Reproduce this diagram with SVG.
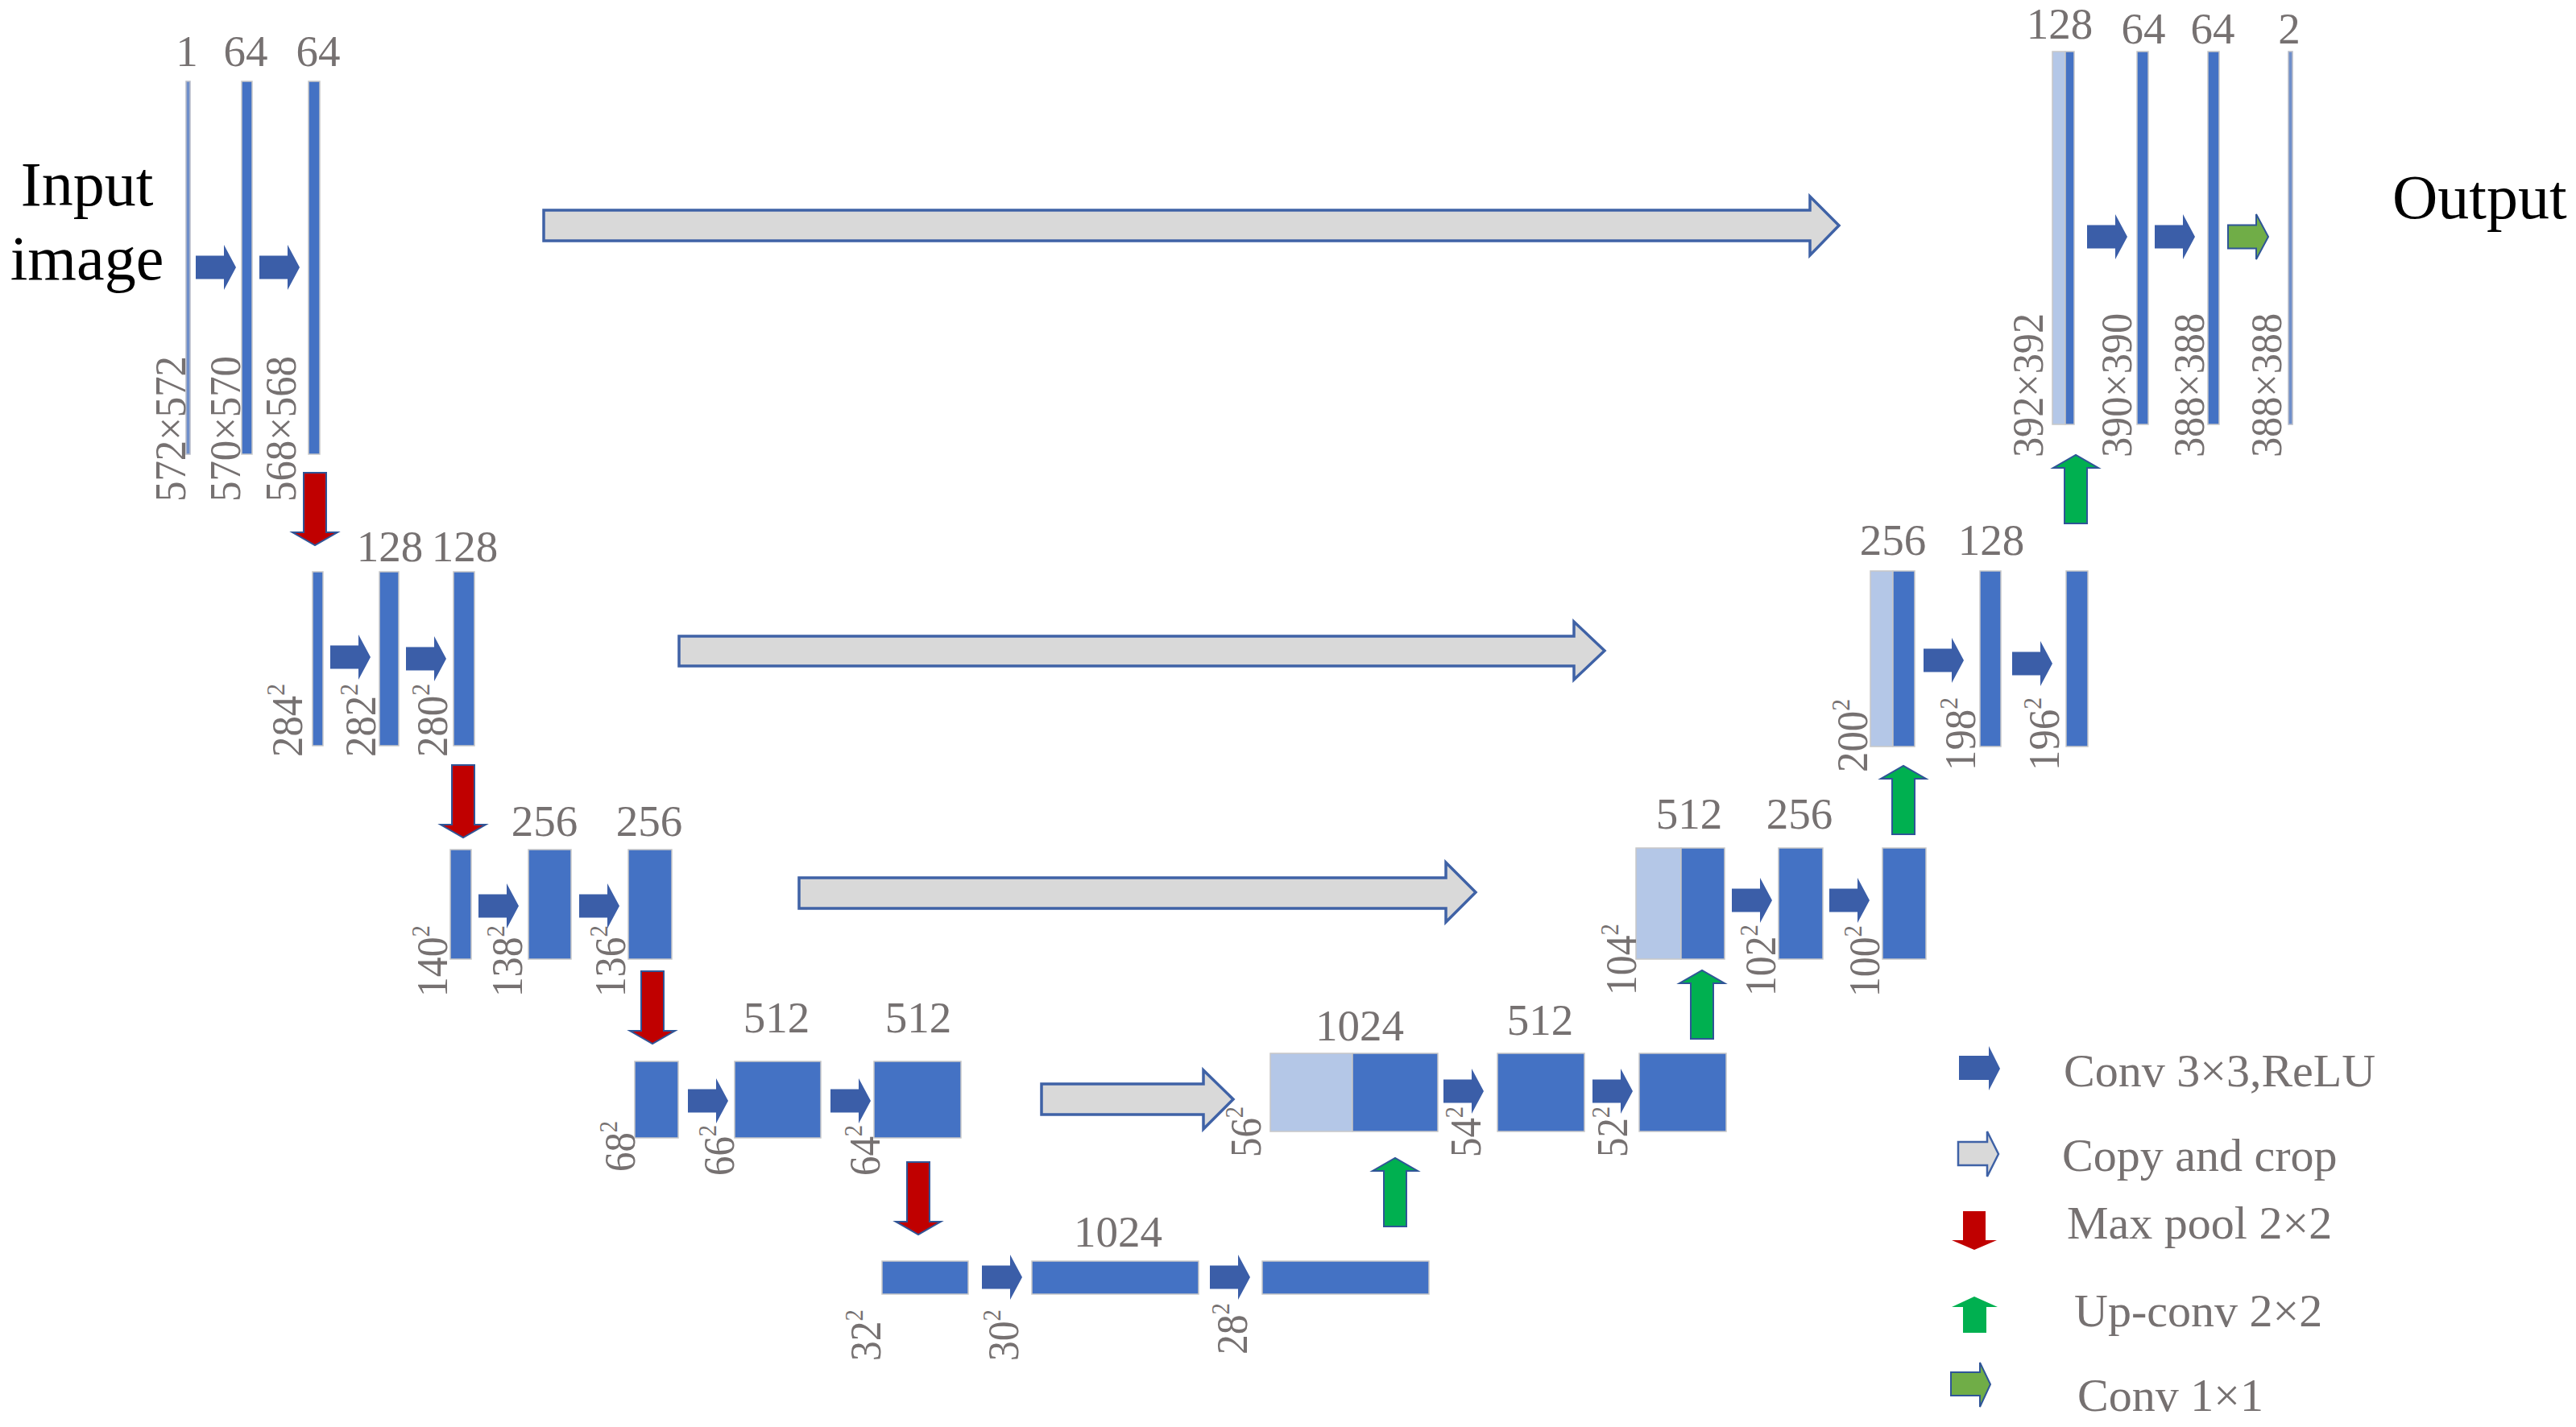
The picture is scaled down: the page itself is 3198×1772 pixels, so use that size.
<svg xmlns="http://www.w3.org/2000/svg" xmlns:xlink="http://www.w3.org/1999/xlink" width="3198" height="1772" viewBox="0 0 3198 1772">
<style>
.bar{fill:#4472c4;stroke:#c8c8c8;stroke-width:1.5}
.lt{fill:#b4c7e7;stroke:#c8c8c8;stroke-width:1.5}
.thin{fill:#6f8fca;stroke:#b8bcc8;stroke-width:1.5}
.ch{font-family:"Liberation Serif","Times New Roman",serif;font-size:55px;fill:#767171;text-anchor:middle}
.sz{font-family:"Liberation Serif","Times New Roman",serif;font-size:55px;fill:#767171}
.sup{font-size:32px}
.big{font-family:"Liberation Serif","Times New Roman",serif;font-size:78px;fill:#000}
.lg{font-family:"Liberation Serif","Times New Roman",serif;font-size:58px;fill:#767171}
.conv{fill:#3b5ea8}
.pool{fill:#c00000;stroke:#2f5597;stroke-width:2}
.up{fill:#00b050;stroke:#2f5597;stroke-width:2}
.copy{fill:#d9d9d9;stroke:#3f62a6;stroke-width:3.5}
.c11{fill:#70ad47;stroke:#2f5597;stroke-width:2}
</style>
<defs>
<path id="convA" d="M0,-14.5 H35 V-28 L50,0 L35,28 V14.5 H0 Z"/>
<path id="poolA" d="M-14,0 H14 V74 H28 L0,90 L-28,74 H-14 Z"/>
<path id="upA" d="M-14,0 H14 V-69 H28 L0,-85 L-28,-69 H-14 Z"/>
</defs>
<rect width="3198" height="1772" fill="#fff"/>

<text class="big" x="108" y="255" text-anchor="middle">Input</text>
<text class="big" x="108" y="347" text-anchor="middle">image</text>
<text class="big" x="2970" y="271">Output</text>

<!-- Encoder level 1 -->
<g id="enc1a"><rect class="thin" x="231" y="101" width="5" height="463"/><text class="ch" x="232" y="82">1</text><text class="sz" transform="translate(230,623) rotate(-90)" textLength="181" lengthAdjust="spacingAndGlyphs">572×572</text></g>
<g id="enc1b"><rect class="bar" x="300" y="101" width="13" height="463"/><text class="ch" x="305" y="82">64</text><text class="sz" transform="translate(298,623) rotate(-90)" textLength="181" lengthAdjust="spacingAndGlyphs">570×570</text></g>
<g id="enc1c"><rect class="bar" x="383" y="101" width="14" height="463"/><text class="ch" x="395" y="82">64</text><text class="sz" transform="translate(367,623) rotate(-90)" textLength="181" lengthAdjust="spacingAndGlyphs">568×568</text></g>

<!-- Encoder level 2 -->
<g id="enc2a"><rect class="bar" x="388" y="710" width="13" height="216"/><text class="sz" transform="translate(375,940) rotate(-90)" textLength="91" lengthAdjust="spacingAndGlyphs">284<tspan class="sup" dy="-22">2</tspan></text></g>
<g id="enc2b"><rect class="bar" x="471" y="710" width="24" height="216"/><text class="ch" x="484" y="697">128</text><text class="sz" transform="translate(466,940) rotate(-90)" textLength="91" lengthAdjust="spacingAndGlyphs">282<tspan class="sup" dy="-22">2</tspan></text></g>
<g id="enc2c"><rect class="bar" x="563" y="710" width="26" height="216"/><text class="ch" x="577" y="697">128</text><text class="sz" transform="translate(555,940) rotate(-90)" textLength="91" lengthAdjust="spacingAndGlyphs">280<tspan class="sup" dy="-22">2</tspan></text></g>

<!-- Encoder level 3 -->
<g id="enc3a"><rect class="bar" x="559" y="1055" width="26" height="136"/><text class="sz" transform="translate(555,1238) rotate(-90)" textLength="89" lengthAdjust="spacingAndGlyphs">140<tspan class="sup" dy="-22">2</tspan></text></g>
<g id="enc3b"><rect class="bar" x="656" y="1055" width="53" height="136"/><text class="ch" x="676" y="1038">256</text><text class="sz" transform="translate(648,1238) rotate(-90)" textLength="89" lengthAdjust="spacingAndGlyphs">138<tspan class="sup" dy="-22">2</tspan></text></g>
<g id="enc3c"><rect class="bar" x="780" y="1055" width="54" height="136"/><text class="ch" x="806" y="1038">256</text><text class="sz" transform="translate(776,1238) rotate(-90)" textLength="89" lengthAdjust="spacingAndGlyphs">136<tspan class="sup" dy="-22">2</tspan></text></g>

<!-- Encoder level 4 -->
<g id="enc4a"><rect class="bar" x="788" y="1318" width="54" height="95"/><text class="sz" transform="translate(788,1455) rotate(-90)" textLength="63" lengthAdjust="spacingAndGlyphs">68<tspan class="sup" dy="-22">2</tspan></text></g>
<g id="enc4b"><rect class="bar" x="912" y="1318" width="107" height="95"/><text class="ch" x="964" y="1282">512</text><text class="sz" transform="translate(911,1460) rotate(-90)" textLength="63" lengthAdjust="spacingAndGlyphs">66<tspan class="sup" dy="-22">2</tspan></text></g>
<g id="enc4c"><rect class="bar" x="1085" y="1318" width="108" height="95"/><text class="ch" x="1140" y="1282">512</text><text class="sz" transform="translate(1092,1460) rotate(-90)" textLength="63" lengthAdjust="spacingAndGlyphs">64<tspan class="sup" dy="-22">2</tspan></text></g>

<!-- Bottleneck -->
<g id="bot1"><rect class="bar" x="1095" y="1566" width="107" height="41"/><text class="sz" transform="translate(1093,1690) rotate(-90)" textLength="64" lengthAdjust="spacingAndGlyphs">32<tspan class="sup" dy="-22">2</tspan></text></g>
<g id="bot2"><rect class="bar" x="1281" y="1566" width="207" height="41"/><text class="ch" x="1388" y="1548">1024</text><text class="sz" transform="translate(1264,1690) rotate(-90)" textLength="64" lengthAdjust="spacingAndGlyphs">30<tspan class="sup" dy="-22">2</tspan></text></g>
<g id="bot3"><rect class="bar" x="1567" y="1566" width="207" height="41"/><text class="sz" transform="translate(1548,1682) rotate(-90)" textLength="64" lengthAdjust="spacingAndGlyphs">28<tspan class="sup" dy="-22">2</tspan></text></g>

<!-- Decoder level 4 -->
<g id="dec4a"><rect class="lt" x="1577" y="1308" width="102" height="97"/><rect class="bar" x="1679" y="1308" width="106" height="97"/><text class="ch" x="1688" y="1292">1024</text><text class="sz" transform="translate(1565,1437) rotate(-90)" textLength="63" lengthAdjust="spacingAndGlyphs">56<tspan class="sup" dy="-22">2</tspan></text></g>
<g id="dec4b"><rect class="bar" x="1859" y="1308" width="108" height="97"/><text class="ch" x="1912" y="1285">512</text><text class="sz" transform="translate(1838,1437) rotate(-90)" textLength="63" lengthAdjust="spacingAndGlyphs">54<tspan class="sup" dy="-22">2</tspan></text></g>
<g id="dec4c"><rect class="bar" x="2035" y="1308" width="108" height="97"/><text class="sz" transform="translate(2020,1437) rotate(-90)" textLength="63" lengthAdjust="spacingAndGlyphs">52<tspan class="sup" dy="-22">2</tspan></text></g>

<!-- Decoder level 3 -->
<g id="dec3a"><rect class="lt" x="2031" y="1053" width="56" height="138"/><rect class="bar" x="2087" y="1053" width="54" height="138"/><text class="ch" x="2097" y="1029">512</text><text class="sz" transform="translate(2031,1236) rotate(-90)" textLength="89" lengthAdjust="spacingAndGlyphs">104<tspan class="sup" dy="-22">2</tspan></text></g>
<g id="dec3b"><rect class="bar" x="2208" y="1053" width="55" height="138"/><text class="ch" x="2234" y="1029">256</text><text class="sz" transform="translate(2204,1237) rotate(-90)" textLength="89" lengthAdjust="spacingAndGlyphs">102<tspan class="sup" dy="-22">2</tspan></text></g>
<g id="dec3c"><rect class="bar" x="2337" y="1053" width="54" height="138"/><text class="sz" transform="translate(2333,1238) rotate(-90)" textLength="89" lengthAdjust="spacingAndGlyphs">100<tspan class="sup" dy="-22">2</tspan></text></g>

<!-- Decoder level 2 -->
<g id="dec2a"><rect class="lt" x="2322" y="709" width="28" height="218"/><rect class="bar" x="2350" y="709" width="27" height="218"/><text class="ch" x="2350" y="689">256</text><text class="sz" transform="translate(2318,959) rotate(-90)" textLength="91" lengthAdjust="spacingAndGlyphs">200<tspan class="sup" dy="-22">2</tspan></text></g>
<g id="dec2b"><rect class="bar" x="2458" y="709" width="26" height="218"/><text class="ch" x="2472" y="689">128</text><text class="sz" transform="translate(2452,957) rotate(-90)" textLength="91" lengthAdjust="spacingAndGlyphs">198<tspan class="sup" dy="-22">2</tspan></text></g>
<g id="dec2c"><rect class="bar" x="2565" y="709" width="27" height="218"/><text class="sz" transform="translate(2556,957) rotate(-90)" textLength="91" lengthAdjust="spacingAndGlyphs">196<tspan class="sup" dy="-22">2</tspan></text></g>

<!-- Decoder level 1 -->
<g id="dec1a"><rect class="lt" x="2548" y="64" width="16" height="463"/><rect class="bar" x="2564" y="64" width="11" height="463"/><text class="ch" x="2557" y="48">128</text><text class="sz" transform="translate(2536,568) rotate(-90)" textLength="179" lengthAdjust="spacingAndGlyphs">392×392</text></g>
<g id="dec1b"><rect class="bar" x="2653" y="64" width="14" height="463"/><text class="ch" x="2661" y="54">64</text><text class="sz" transform="translate(2646,568) rotate(-90)" textLength="179" lengthAdjust="spacingAndGlyphs">390×390</text></g>
<g id="dec1c"><rect class="bar" x="2741" y="64" width="14" height="463"/><text class="ch" x="2747" y="54">64</text><text class="sz" transform="translate(2736,568) rotate(-90)" textLength="179" lengthAdjust="spacingAndGlyphs">388×388</text></g>
<g id="out"><rect class="thin" x="2841" y="64" width="5" height="463"/><text class="ch" x="2842" y="54">2</text><text class="sz" transform="translate(2832,568) rotate(-90)" textLength="179" lengthAdjust="spacingAndGlyphs">388×388</text></g>

<!-- Connectors -->
<g id="connectors">
<use href="#convA" class="conv" x="243" y="332"/>
<use href="#convA" class="conv" x="322" y="332"/>
<use href="#convA" class="conv" x="410" y="816"/>
<use href="#convA" class="conv" x="504" y="818"/>
<use href="#convA" class="conv" x="594" y="1125"/>
<use href="#convA" class="conv" x="719" y="1125"/>
<use href="#convA" class="conv" x="854" y="1367"/>
<use href="#convA" class="conv" x="1031" y="1367"/>
<use href="#convA" class="conv" x="1219" y="1586"/>
<use href="#convA" class="conv" x="1502" y="1586"/>
<use href="#convA" class="conv" x="1792" y="1355"/>
<use href="#convA" class="conv" x="1977" y="1355"/>
<use href="#convA" class="conv" x="2150" y="1118"/>
<use href="#convA" class="conv" x="2271" y="1118"/>
<use href="#convA" class="conv" x="2388" y="820"/>
<use href="#convA" class="conv" x="2498" y="824"/>
<use href="#convA" class="conv" x="2591" y="294"/>
<use href="#convA" class="conv" x="2675" y="294"/>
<use href="#convA" class="c11" x="2766" y="294"/>
<use href="#poolA" class="pool" x="391" y="587"/>
<use href="#poolA" class="pool" x="575" y="950"/>
<use href="#poolA" class="pool" x="810" y="1206"/>
<use href="#poolA" class="pool" x="1140" y="1443"/>
<use href="#upA" class="up" x="1732" y="1523"/>
<use href="#upA" class="up" x="2113" y="1290"/>
<use href="#upA" class="up" x="2363" y="1036"/>
<use href="#upA" class="up" x="2577" y="650"/>
<path class="copy" d="M675,261 H2247 V244 L2283,280 L2247,317 V299 H675 Z"/>
<path class="copy" d="M843,790 H1954 V772 L1992,808 L1954,844 V827 H843 Z"/>
<path class="copy" d="M992,1090 H1795 V1071 L1832,1108 L1795,1145 V1128 H992 Z"/>
<path class="copy" d="M1293,1346 H1494 V1329 L1531,1365 L1494,1402 V1384 H1293 Z"/>
</g>

<!-- Legend -->
<g id="legend">
<path class="conv" d="M2432,1311 H2469 V1299 L2483,1327 L2469,1354 V1341 H2432 Z"/>
<text class="lg" x="2562" y="1349">Conv 3×3,ReLU</text>
<path class="copy" style="stroke-width:2.5" d="M2431,1418 H2467 V1405 L2481,1433 L2467,1461 V1447 H2431 Z"/>
<text class="lg" x="2560" y="1454">Copy and crop</text>
<path class="pool" style="stroke:none" d="M2437,1504 H2465 V1540 H2479 L2451,1552 L2423,1540 H2437 Z"/>
<text class="lg" x="2566" y="1538">Max pool 2×2</text>
<path class="up" style="stroke:none" d="M2437,1655 H2466 V1623 H2480 L2451,1610 L2423,1623 H2437 Z"/>
<text class="lg" x="2575" y="1647">Up-conv 2×2</text>
<path class="c11" d="M2422,1704 H2458 V1692 L2471,1719 L2458,1747 V1733 H2422 Z"/>
<text class="lg" x="2579" y="1752">Conv 1×1</text>
</g>
</svg>
